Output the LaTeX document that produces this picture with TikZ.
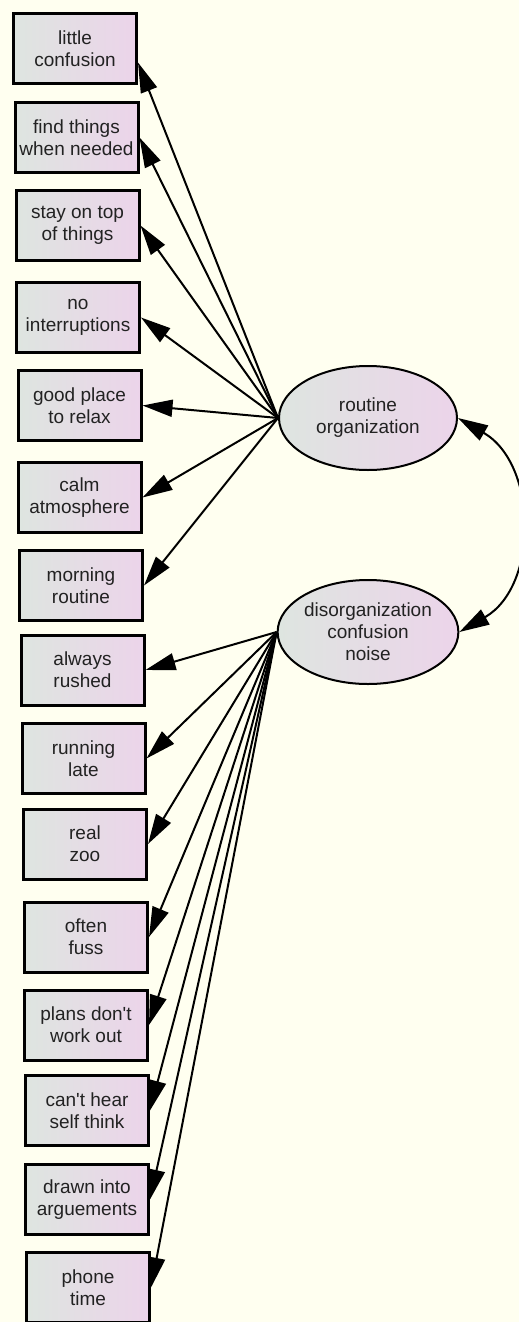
\documentclass[tikz,border=0pt]{standalone}
\usepackage{fontspec}
\setmainfont{Liberation Sans}
\usetikzlibrary{arrows.meta,shapes.geometric}

\definecolor{paper}{RGB}{255,255,240}
\definecolor{shadeL}{RGB}{222,229,224}
\definecolor{shadeR}{RGB}{236,212,234}
\definecolor{ink}{RGB}{34,34,34}

\tikzset{
  obsbox/.style={draw, line width=3pt, left color=shadeL, right color=shadeR,
    minimum width=123pt, minimum height=70pt, inner sep=0pt, align=center,
    text=ink, font=\fontsize{19}{22}\selectfont},
  latent/.style={draw, ellipse, line width=2pt, left color=shadeL, right color=shadeR,
    minimum width=178pt, minimum height=104pt, inner sep=0pt, align=center,
    text=ink, font=\fontsize{19}{22}\selectfont},
  path/.style={line width=2pt, -{Triangle[length=30pt,width=17pt]}},
  cov/.style={line width=2pt, {Triangle[length=30pt,width=17pt]}-{Triangle[length=30pt,width=17pt]}}
}

\begin{document}
\begin{tikzpicture}[x=1pt,y=-1pt]
      \useasboundingbox [fill=paper] (0,0) rectangle (519,1322);
      % factors
      \node [latent] (ro) at (368,418) {routine\\organization};
      \node [latent] (dn) at (368,632) {disorganization\\confusion\\noise};
      % indicators
      \node [obsbox] (b1) at (75,48.5) {little\\confusion};
      \node [obsbox] (b2) at (76.5,137.5) {find things\\when needed};
      \node [obsbox] (b3) at (77.5,225.5) {stay on top\\of things};
      \node [obsbox] (b4) at (78,317.5) {no\\interruptions};
      \node [obsbox] (b5) at (79.5,405.5) {good place\\to relax};
      \node [obsbox] (b6) at (79.5,497.5) {calm\\atmosphere};
      \node [obsbox] (b7) at (81,585.5) {morning\\routine};
      \node [obsbox] (b8) at (82.5,670) {always\\rushed};
      \node [obsbox] (b9) at (83.5,758.5) {running\\late};
      \node [obsbox] (b10) at (85,844) {real\\zoo};
      \node [obsbox] (b11) at (86,937) {often\\fuss};
      \node [obsbox] (b12) at (86,1025) {plans don\textquotesingle t\\work out};
      \node [obsbox] (b13) at (87,1110.5) {can\textquotesingle t hear\\self think};
      \node [obsbox] (b14) at (87,1199.5) {drawn into\\arguements};
      \node [obsbox] (b15) at (88,1287.5) {phone\\time};
      % loadings
      \draw [path] (ro.west) -- ([yshift=-14pt]b1.east);
      \foreach \i in {2,...,7}
        \draw [path] (ro.west) -- (b\i.east);
      \foreach \i in {8,...,15}
        \draw [path] (dn.west) -- (b\i.east);
      % covariance
      \draw [cov] (ro.east) to [out=-30,in=30,looseness=1.1] (dn.east);
    \end{tikzpicture}
\end{document}
